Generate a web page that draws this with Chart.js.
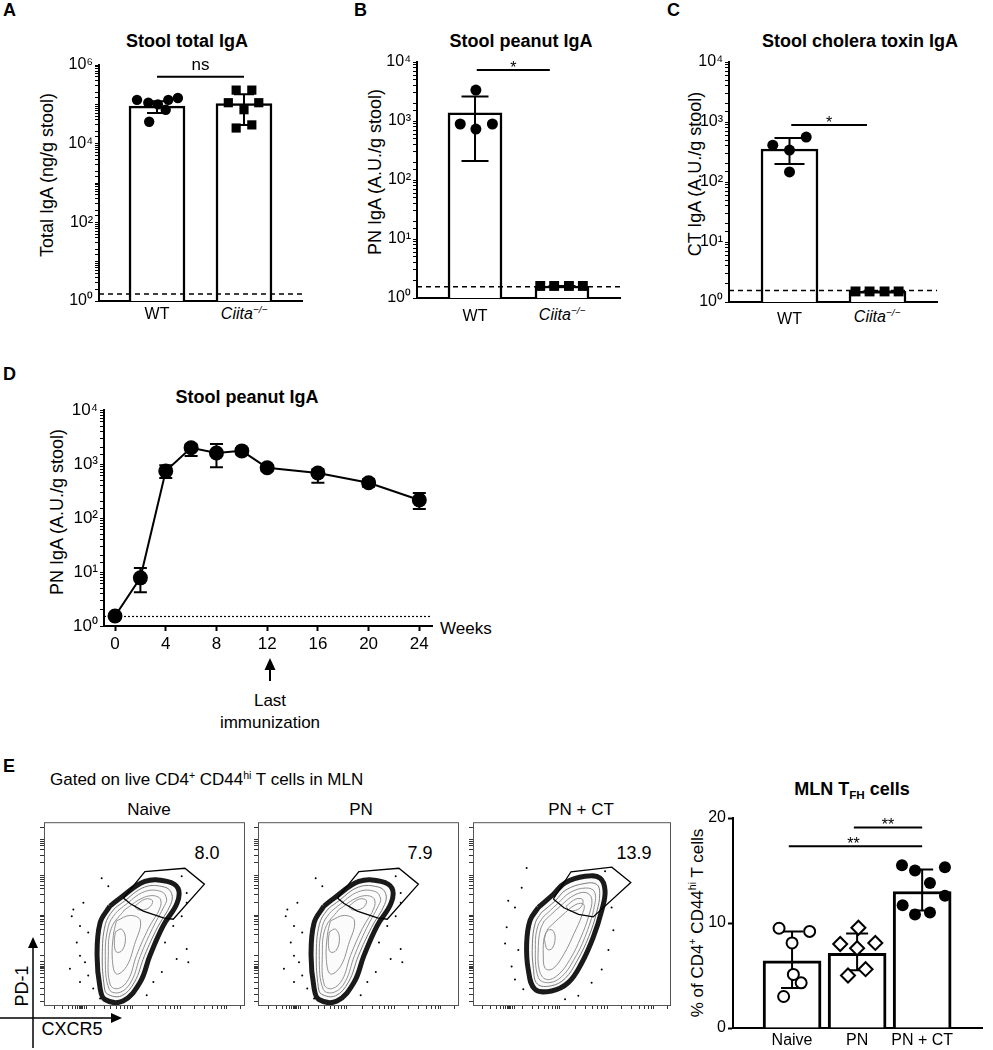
<!DOCTYPE html>
<html>
<head>
<meta charset="utf-8">
<script src="https://cdn.jsdelivr.net/npm/chart.js@4.4.0/dist/chart.umd.min.js"></script>
<style>
body { margin: 0; background: #fff; }
#fig { position: relative; width: 993px; height: 1050px; overflow: hidden; font-family: "Liberation Sans", Arial, sans-serif; color: #000; }
#fig canvas { position: absolute; }
.t { position: absolute; white-space: nowrap; line-height: 1; }
.c { transform: translate(-50%, -50%); }
.r { transform: translate(-50%, -50%) rotate(-90deg); }
.b { font-weight: bold; }
sup { font-size: 62%; vertical-align: 0.6em; line-height: 0; }
sub { font-size: 65%; vertical-align: -0.3em; line-height: 0; }
svg { position: absolute; left: 0; top: 0; }
</style>
</head>
<body>
<div id="fig">
  <div class="t b" style="left:3px;top:1px;font-size:18px">A</div>
  <div class="t b" style="left:354px;top:1px;font-size:18px">B</div>
  <div class="t b" style="left:667px;top:1px;font-size:18px">C</div>
  <div class="t b" style="left:3px;top:365px;font-size:18px">D</div>
  <div class="t b" style="left:3px;top:757px;font-size:18px">E</div>

  <div class="t b c" style="left:187px;top:41px;font-size:18px">Stool total IgA</div>
  <div class="t b c" style="left:521px;top:41px;font-size:18px">Stool peanut IgA</div>
  <div class="t b c" style="left:860px;top:41px;font-size:18px">Stool cholera toxin IgA</div>
  <div class="t b c" style="left:247px;top:397px;font-size:18px">Stool peanut IgA</div>
  <div class="t b c" style="left:852px;top:789px;font-size:18px">MLN T<sub>FH</sub> cells</div>

  <div class="t r" style="left:47px;top:175px;font-size:18px">Total IgA (ng/g stool)</div>
  <div class="t r" style="left:375px;top:172px;font-size:18px">PN IgA (A.U./g stool)</div>
  <div class="t r" style="left:695px;top:174px;font-size:18px">CT IgA (A.U./g stool)</div>
  <div class="t r" style="left:57px;top:512px;font-size:18px">PN IgA (A.U./g stool)</div>
  <div class="t r" style="left:697px;top:923px;font-size:17px">% of CD4<sup>+</sup> CD44<sup>hi</sup> T cells</div>

  <div class="t c" style="left:244px;top:314px;font-size:16px;font-style:italic">Ciita<sup>&minus;/&minus;</sup></div>
  <div class="t c" style="left:562px;top:315px;font-size:16px;font-style:italic">Ciita<sup>&minus;/&minus;</sup></div>
  <div class="t c" style="left:877px;top:317px;font-size:16px;font-style:italic">Ciita<sup>&minus;/&minus;</sup></div>

  <div class="t" style="left:440px;top:620px;font-size:17px">Weeks</div>
  <div class="t c" style="left:270px;top:700px;font-size:17px">Last</div>
  <div class="t c" style="left:270px;top:722px;font-size:17px">immunization</div>

  <div class="t" style="left:50px;top:771px;font-size:17px">Gated on live CD4<sup>+</sup> CD44<sup>hi</sup> T cells in MLN</div>
  <div class="t c" style="left:149px;top:809px;font-size:17px">Naive</div>
  <div class="t c" style="left:361px;top:809px;font-size:17px">PN</div>
  <div class="t c" style="left:581px;top:809px;font-size:17px">PN + CT</div>
  <div class="t c" style="left:207px;top:853px;font-size:18px">8.0</div>
  <div class="t c" style="left:420px;top:853px;font-size:18px">7.9</div>
  <div class="t c" style="left:634px;top:853px;font-size:18px">13.9</div>
  <div class="t r" style="left:22px;top:986px;font-size:18px">PD-1</div>
  <div class="t c" style="left:72px;top:1029px;font-size:18px">CXCR5</div>

  <svg width="993" height="1050">
    <line x1="270" y1="681" x2="270" y2="668" stroke="#000" stroke-width="2"/>
    <polygon points="264.5,670 275.5,670 270,658" fill="#000"/>
    <line x1="33" y1="1048" x2="33" y2="946" stroke="#000" stroke-width="1.5"/>
    <polygon points="28,948 38,948 33,937" fill="#000"/>
    <line x1="0" y1="1018" x2="113" y2="1018" stroke="#000" stroke-width="1.5"/>
    <polygon points="111,1013 111,1023 122,1018" fill="#000"/>
  </svg>
</div>

<script>
// ---------- data ----------
// A: stool total IgA (ng/g stool)
const totalMean = [9e4, 1.05e5];
const totalLo = [6e4, 3e4];
const totalHi = [1.2e5, 1.8e5];
const totalWT = [1.3e5, 1.1e5, 1.0e5, 3.6e4, 7.3e4, 1.3e5, 1.45e5];
const totalKO = [2.3e5, 2.3e5, 1.1e5, 1.1e5, 7.3e4, 2.5e4, 3.0e4];

// B: stool peanut IgA (A.U./g stool)
const pnMean = [1370, 1.6];
const pnLo = [210, 1.6];
const pnHi = [2600, 1.6];
const pnWT = [3350, 890, 730, 890];
const pnKO = [1.6, 1.6, 1.6, 1.6];

// C: stool cholera toxin IgA (A.U./g stool)
const ctMean = [355, 1.5];
const ctLo = [200, 1.5];
const ctHi = [540, 1.5];
const ctWT = [410, 340, 560, 147];
const ctKO = [1.5, 1.5, 1.5, 1.5];

const lodABC = [1.5, 1.55, 1.55];

// D: time course of stool peanut IgA
const weeks = [0, 2, 4, 6, 8, 10, 12, 16, 20, 24];
const weekTicks = [0, 4, 8, 12, 16, 20, 24];
const pnTime = [1.53, 7.8, 740, 2000, 1600, 1750, 850, 680, 450, 215];
const pnTimeLo = [1.45, 4.2, 550, 1400, 870, 1500, 760, 450, 380, 147];
const pnTimeHi = [1.6, 11.8, 950, 2300, 2350, 1950, 950, 800, 520, 290];
const lodD = 1.5;

// E: MLN TFH cells (% of CD4+ CD44hi T cells)
const tfhGroups = ['Naive', 'PN', 'PN + CT'];
const tfhMean = [6.4, 7.1, 13.0];
const tfhLo = [3.8, 5.5, 11.2];
const tfhHi = [9.2, 9.0, 15.1];
const tfhNaive = [9.5, 9.2, 8.1, 5.1, 4.3, 3.0];
const tfhPN = [9.55, 8.0, 7.6, 8.1, 5.6, 5.0];
const tfhPNCT = [15.5, 15.0, 15.3, 13.8, 12.6, 11.7, 10.8, 11.0];

// flow plots, CXCR5 (x) vs PD-1 (y), both in 0..100 plot units
const cloudNP = [[32.8,54.1],[37.8,58.4],[50.2,67.6],[61.2,67.6],[66.7,63.8],[66.2,55.7],[59.2,43.2],[52.7,27],[47.8,12.4],[39.3,2.2],[30.3,3],[27.9,9.2],[26.4,27],[27.9,44.9],[32.8,54.1]];
const ringNP1 = [[39,56],[50,64.5],[60,64.5],[63.5,61],[63,55],[56.5,42.5],[50,27],[45,12.5],[38.5,5],[31.5,6],[30,10],[29,27],[30.5,44],[34.5,52],[39,56]];
const ringNP6 = [[39.5,54],[50,62],[58.5,62],[61,58],[60,54.5],[54,42],[48,27],[43.5,13],[38,7],[32.5,8.5],[30.5,27],[32,43],[35.5,50],[39.5,54]];
const ringNP2 = [[40,52],[50,59],[57,59],[58,54],[52,42],[46,27],[42,14],[37,9],[33,11],[32,27],[33.5,42],[40,52]];
const ringNP3 = [[36,46],[43,49],[48,46],[45,33],[41,21],[36,17],[34,25],[34.5,38],[36,46]];
const ringNP4 = [[35.5,40],[38.5,41.5],[40.5,37],[39,30],[36,29],[35,34],[35.5,40]];
const ringNP5 = [[45,54],[50.5,58],[54,57],[52,53],[47,52],[45,54]];
const gateNP = [[39.5,58.5],[50.2,73],[70.1,74.8],[79.8,66.1],[64.3,46.9],[59.4,47.7],[49.4,51.4],[42.8,55.5],[39.5,58.5]];
const dotsNP = [[28.7,69.4],[32,64.9],[19.6,55.9],[14.6,52.3],[13.8,48.6],[17.9,43.2],[22,39.6],[16.3,34.2],[17.9,27],[20.4,23.4],[12.9,19.8],[22,16.2],[17.9,12.6],[24.5,9],[27.9,3.6],[68.5,70.4],[71,61.3],[71,55.9],[68.5,48.6],[64.3,43.2],[71,30.6],[71.8,23.4],[66,25.2],[58.6,18],[54.4,12.6],[60.2,34.2],[51.1,5.4]];

const cloudCT = [[33,53.4],[40.6,60.6],[46.5,66.8],[56.6,70.4],[64.1,69.5],[66.7,62.4],[65,51.6],[60.8,37.3],[54.9,23],[48.1,12.2],[39.7,7.7],[31.3,8.6],[27.9,19.4],[27.1,33.7],[28.8,46.2],[33,53.4]];
const ringCT1 = [[34.5,50.5],[41.5,57],[47,63],[56.5,66.5],[62.5,66],[64,61],[62.5,51],[58.5,37.5],[52.5,24],[46.5,14.5],[39.5,10.5],[32.5,11.5],[30.5,20],[30,33.5],[31.5,45],[34.5,50.5]];
const ringCT6 = [[35.3,48],[42.8,55.5],[49,61.5],[57,64],[61.3,62],[61.3,54],[56.5,37],[50.8,24.5],[44.8,15.5],[38.2,12.2],[33,15],[31.5,33],[32.7,43],[35.3,48]];
const ringCT2 = [[36,46],[44,54],[51,60],[57,61.5],[60,58],[58.5,49],[54.5,37],[49,25],[43,16.5],[37,14],[33.5,19],[33,32],[34,41],[36,46]];
const ringCT3 = [[38,42],[45,49],[52,55],[56,55],[55,49],[51,39],[46,28],[40.5,20],[36.5,20],[35.5,28],[36,37],[38,42]];
const ringCT4 = [[36,36],[37.5,40.5],[40,41],[41.5,37],[40,31],[37.5,30.5],[36,36]];
const ringCT5 = [[47,54],[52,58],[55.5,57.5],[54,53],[49,51.5],[47,54]];
const gateCT = [[40.6,58],[49.5,72.9],[70.1,75.4],[79.7,67],[60.7,48.2],[53.3,49.6],[45.9,53.2],[40.6,58]];
const dotsCT = [[27.1,74.9],[17.8,57],[17,42.6],[21.2,53.4],[22.9,30.1],[19.5,21.1],[21.2,14],[25.4,8.6],[66.7,73.1],[70,53.4],[70.9,40.9],[68.4,30.1],[65,19.4],[59.9,12.2],[53.2,5],[46.5,3.2],[16.2,33.7],[24.6,64.1]];

const flowTicksY = [2, 6, 9, 12.4, 15, 17.5, 19, 20, 20.5, 21, 22, 24, 27, 34, 38.5, 41.5, 44, 45.5, 47, 48.2, 49.2, 56, 60.5, 63.5, 65.5, 67.5, 68.8, 70, 70.8, 78, 82, 85, 87, 88.5, 89.5, 90.3, 90.8, 97];
const flowTicksX = [5, 9, 12, 14, 15.5, 16.5, 17.5, 18, 18.5, 19, 20, 21, 25, 30, 33, 36, 38, 40, 41.5, 42.8, 43.8, 52, 57, 60.5, 63, 65, 66.5, 67.7, 75, 80, 84, 86.5, 88.5, 90, 91, 98];

// layout only: horizontal jitter of the dots around each group centre
const jitTotWT = [-0.23, -0.10, 0.01, -0.09, 0.10, 0.13, 0.24];
const jitTotKO = [-0.09, 0.09, -0.18, 0.17, 0, -0.09, 0.09];
const jitPnWT = [0.01, -0.17, 0.01, 0.2];
const jitCtWT = [-0.19, 0, 0.19, 0];
const jitKO4 = [-0.25, -0.09, 0.08, 0.24];
const jitNaive = [-0.2, 0.27, 0, 0.02, 0.14, -0.13];
const jitPN = [0.02, -0.26, 0, 0.28, 0.13, -0.14];
const jitPNCT = [-0.31, -0.11, 0.35, 0.12, 0.35, -0.3, -0.11, 0.12];

// ---------- helpers ----------
Chart.defaults.font.family = '"Liberation Sans", Arial, sans-serif';
Chart.defaults.color = '#000';
Chart.defaults.animation = false;
Chart.defaults.plugins.legend.display = false;
Chart.defaults.plugins.tooltip.enabled = false;

const SUP = {0: '\u2070', 1: '\u00b9', 2: '\u00b2', 3: '\u00b3', 4: '\u2074', 5: '\u2075', 6: '\u2076'};

function mk(left, top, w, h) {
    const c = document.createElement('canvas');
    c.width = w;
    c.height = h;
    c.style.left = left + 'px';
    c.style.top = top + 'px';
    document.getElementById('fig').appendChild(c);
    return c;
}

function pts(xs, ys) {
    return ys.map((y, i) => ({x: xs[i], y: y}));
}

function around(centre, jit) {
    return jit.map(j => centre + j);
}

function drawErr(chart, e) {
    const ctx = chart.ctx, xs = chart.scales.x, ys = chart.scales.y;
    ctx.save();
    ctx.strokeStyle = '#000';
    ctx.lineWidth = e.w;
    e.x.forEach((xv, i) => {
        const px = xs.getPixelForValue(xv);
        const lo = ys.getPixelForValue(e.lo[i]);
        const hi = ys.getPixelForValue(e.hi[i]);
        ctx.beginPath();
        ctx.moveTo(px, lo); ctx.lineTo(px, hi);
        ctx.moveTo(px - e.cap / 2, lo); ctx.lineTo(px + e.cap / 2, lo);
        ctx.moveTo(px - e.cap / 2, hi); ctx.lineTo(px + e.cap / 2, hi);
        ctx.stroke();
    });
    ctx.restore();
}

function drawLod(chart, l) {
    const ctx = chart.ctx, a = chart.chartArea;
    const py = chart.scales.y.getPixelForValue(l.value);
    ctx.save();
    ctx.setLineDash(l.dash);
    ctx.lineWidth = l.w;
    ctx.strokeStyle = '#000';
    ctx.beginPath();
    ctx.moveTo(a.left, py); ctx.lineTo(a.right, py);
    ctx.stroke();
    ctx.restore();
}

// extra marks that are not plain datasets: error bars, LOD line, significance bars, plot frame
function deco(o) {
    return {
        id: 'deco',
        beforeDatasetsDraw(chart) {
            if (o.lod && o.lod.under) drawLod(chart, o.lod);
            if (o.err && o.err.under) drawErr(chart, o.err);
        },
        afterDatasetDraw(chart, args) {
            if (o.lod && o.lod.after === args.index) drawLod(chart, o.lod);
            if (o.err && o.err.after === args.index) drawErr(chart, o.err);
        },
        afterDatasetsDraw(chart) {
            const ctx = chart.ctx;
            if (o.sig) {
                o.sig.forEach(s => {
                    const x1 = chart.scales.x.getPixelForValue(s.x1);
                    const x2 = chart.scales.x.getPixelForValue(s.x2);
                    const py = chart.scales.y.getPixelForValue(s.y);
                    ctx.save();
                    ctx.lineWidth = 2;
                    ctx.strokeStyle = '#000';
                    ctx.beginPath();
                    ctx.moveTo(x1, py); ctx.lineTo(x2, py);
                    ctx.stroke();
                    ctx.fillStyle = '#000';
                    ctx.textAlign = 'center';
                    ctx.textBaseline = 'alphabetic';
                    ctx.font = s.size + 'px "Liberation Sans", Arial, sans-serif';
                    const star = s.text.indexOf('*') >= 0;
                    ctx.fillText(s.text, (x1 + x2) / 2 + (s.dx || 0), star ? py + 3 : py - 7);
                    ctx.restore();
                });
            }
            if (o.box) {
                const a = chart.chartArea;
                ctx.save();
                ctx.strokeStyle = '#555';
                ctx.lineWidth = 1;
                ctx.strokeRect(a.left + 0.5, a.top + 0.5, a.right - a.left - 1, a.bottom - a.top);
                ctx.restore();
            }
        }
    };
}

function logTicks(exps) {
    return function(v) {
        const l = Math.log10(v);
        const e = Math.round(l);
        if (Math.abs(l - e) < 1e-6 && exps.includes(e)) return '10' + SUP[e];
        return '';
    };
}

// ---------- A, B, C: bar + dots on a log axis ----------
function logDotPlot(c, p) {
    new Chart(mk(c.left, c.top, c.w, c.h), {
        type: 'bar',
        data: {
            datasets: [
                {type: 'scatter', data: pts(around(1, p.jitWT), p.wt), pointStyle: 'circle', pointRadius: p.rWT, backgroundColor: '#000', borderColor: '#000', borderWidth: 0, order: 1},
                {type: 'scatter', data: pts(around(2, p.jitKO), p.ko), pointStyle: 'rect', pointRadius: p.rKO, backgroundColor: '#000', borderColor: '#000', borderWidth: 0, order: 1},
                {type: 'bar', data: pts([1, 2], p.mean), barThickness: p.barW, backgroundColor: '#fff', borderColor: '#000', borderWidth: 2.5, order: 2}
            ]
        },
        options: {
            responsive: false,
            layout: {padding: {top: c.padTop, right: c.padRight, left: 0, bottom: 0}},
            scales: {
                x: {
                    type: 'linear', min: p.xMin, max: p.xMax, offset: false,
                    afterBuildTicks: s => { s.ticks = [{value: 1}, {value: 2}]; },
                    afterFit: s => { s.height = c.xH; },
                    grid: {display: false, drawTicks: false, offset: false},
                    border: {color: '#000', width: 2},
                    ticks: {callback: v => (v === 1 ? 'WT' : ''), font: {size: 16}, padding: p.xPad, color: '#000', maxRotation: 0}
                },
                y: {
                    type: 'logarithmic', min: p.yMin, max: p.yMax,
                    afterFit: s => { s.width = c.yW; },
                    grid: {drawOnChartArea: false, tickLength: 4, tickColor: '#000', tickWidth: 1},
                    border: {color: '#000', width: 2},
                    ticks: {autoSkip: false, callback: logTicks(p.exps), font: {size: 16}, padding: 2, color: '#000'}
                }
            }
        },
        plugins: [deco({
            lod: {value: p.lod, dash: [5, 4], w: 1.5, after: 0},
            err: {x: [1, 2], lo: p.lo, hi: p.hi, cap: p.cap, w: 2, after: 2},
            sig: p.sig
        })]
    });
}

logDotPlot({left: 0, top: 0, w: 320, h: 330, padTop: 65, padRight: 18, yW: 99, xH: 29}, {
    mean: totalMean, lo: totalLo, hi: totalHi, wt: totalWT, ko: totalKO, jitWT: jitTotWT, jitKO: jitTotKO,
    rWT: 5.2, rKO: 6.5, barW: 56, cap: 20, xMin: 0.333, xMax: 2.667, xPad: 4,
    yMin: 1, yMax: 1e6, exps: [0, 2, 4, 6], lod: lodABC[0],
    sig: [{x1: 1, x2: 2, y: 5e5, text: 'ns', size: 17}]
});

logDotPlot({left: 330, top: 0, w: 300, h: 330, padTop: 62, padRight: 10, yW: 87, xH: 32}, {
    mean: pnMean, lo: pnLo, hi: pnHi, wt: pnWT, ko: pnKO, jitWT: jitPnWT, jitKO: jitKO4,
    rWT: 5.5, rKO: 7, barW: 54, cap: 27, xMin: 0.333, xMax: 2.667, xPad: 9,
    yMin: 1, yMax: 1e4, exps: [0, 1, 2, 3, 4], lod: lodABC[1],
    sig: [{x1: 1.02, x2: 1.86, y: 7300, text: '*', size: 16}]
});

logDotPlot({left: 660, top: 0, w: 333, h: 330, padTop: 62, padRight: 56, yW: 69, xH: 28}, {
    mean: ctMean, lo: ctLo, hi: ctHi, wt: ctWT, ko: ctKO, jitWT: jitCtWT, jitKO: jitKO4,
    rWT: 5.5, rKO: 7, barW: 57, cap: 30, xMin: 0.3125, xMax: 2.676, xPad: 8,
    yMin: 1, yMax: 1e4, exps: [0, 1, 2, 3, 4], lod: lodABC[2],
    sig: [{x1: 1.02, x2: 1.88, y: 890, text: '*', size: 16}]
});

// ---------- D: time course ----------
new Chart(mk(0, 380, 445, 290), {
    type: 'scatter',
    data: {
        datasets: [{
            data: pts(weeks, pnTime), showLine: true, borderColor: '#000', borderWidth: 2,
            pointRadius: 7.5, pointBackgroundColor: '#000', pointBorderWidth: 0
        }]
    },
    options: {
        responsive: false,
        layout: {padding: {top: 30, right: 13, left: 0, bottom: 0}},
        scales: {
            x: {
                type: 'linear', min: -0.87, max: 25,
                afterBuildTicks: s => { s.ticks = weekTicks.map(v => ({value: v})); },
                afterFit: s => { s.height = 44; },
                grid: {drawOnChartArea: false, tickLength: 5, tickColor: '#000', tickWidth: 2},
                border: {color: '#000', width: 2},
                ticks: {font: {size: 17}, padding: 3, color: '#000', maxRotation: 0}
            },
            y: {
                type: 'logarithmic', min: 1, max: 1e4,
                afterFit: s => { s.width = 104; },
                grid: {drawOnChartArea: false, tickLength: 4, tickColor: '#000', tickWidth: 1},
                border: {color: '#000', width: 2},
                ticks: {autoSkip: false, callback: logTicks([0, 1, 2, 3, 4]), font: {size: 17}, padding: 2, color: '#000'}
            }
        }
    },
    plugins: [deco({
        lod: {value: lodD, dash: [2, 2], w: 1.2, under: true},
        err: {x: weeks, lo: pnTimeLo, hi: pnTimeHi, cap: 13, w: 2, under: true}
    })]
});

// ---------- E: flow plots ----------
function poly(p, style) {
    return Object.assign({data: p.map(q => ({x: q[0], y: q[1]})), showLine: true, pointRadius: 0, tension: 0.4}, style);
}

function flowPlot(left, w, padRight, s) {
    const grey = {borderColor: '#929292', borderWidth: 1};
    new Chart(mk(left, 812, w, 205), {
        type: 'scatter',
        data: {
            datasets: [
                poly(s.gate, {borderColor: '#000', borderWidth: 1.3, tension: 0, order: 0}),
                poly(s.r5, Object.assign({order: 1}, grey)),
                poly(s.r4, Object.assign({order: 1}, grey)),
                poly(s.r3, Object.assign({order: 2}, grey)),
                poly(s.r2, Object.assign({order: 3}, grey)),
                poly(s.r6, Object.assign({order: 4}, grey)),
                poly(s.r1, {borderColor: '#7a7a7a', borderWidth: 1, order: 5}),
                poly(s.cloud, {borderColor: '#1a1a1a', borderWidth: 5, backgroundColor: '#fbfbfb', fill: 'shape', order: 6}),
                {data: s.dots.map(q => ({x: q[0], y: q[1]})), pointRadius: 1, backgroundColor: '#000', borderWidth: 0, order: 8}
            ]
        },
        options: {
            responsive: false,
            layout: {padding: {top: 8, right: padRight, left: 0, bottom: 0}},
            scales: {
                x: {
                    type: 'linear', min: 0, max: 100,
                    afterBuildTicks: sc => { sc.ticks = flowTicksX.map(v => ({value: v})); },
                    afterFit: sc => { sc.height = 12; },
                    grid: {drawOnChartArea: false, tickLength: 4, tickColor: '#333', tickWidth: 1},
                    border: {display: false},
                    ticks: {callback: () => '', autoSkip: false}
                },
                y: {
                    type: 'linear', min: 0, max: 100,
                    afterBuildTicks: sc => { sc.ticks = flowTicksY.map(v => ({value: v})); },
                    afterFit: sc => { sc.width = 14; },
                    grid: {drawOnChartArea: false, tickLength: 4, tickColor: '#333', tickWidth: 1},
                    border: {display: false},
                    ticks: {callback: () => '', autoSkip: false}
                }
            }
        },
        plugins: [deco({box: true})]
    });
}

const shapeNP = {cloud: cloudNP, r1: ringNP1, r2: ringNP2, r3: ringNP3, r4: ringNP4, r5: ringNP5, r6: ringNP6, gate: gateNP, dots: dotsNP};
const shapeCT = {cloud: cloudCT, r1: ringCT1, r2: ringCT2, r3: ringCT3, r4: ringCT4, r5: ringCT5, r6: ringCT6, gate: gateCT, dots: dotsCT};
flowPlot(30, 225, 10, shapeNP);
flowPlot(244, 225, 10, shapeNP);
flowPlot(459, 222, 10, shapeCT);

// ---------- E: TFH bar chart ----------
new Chart(mk(700, 800, 293, 250), {
    type: 'bar',
    data: {
        datasets: [
            {type: 'scatter', data: pts(around(1, jitNaive), tfhNaive), pointStyle: 'circle', pointRadius: 5.5, backgroundColor: '#fff', borderColor: '#000', borderWidth: 2, order: 1},
            {type: 'scatter', data: pts(around(2, jitPN), tfhPN), pointStyle: 'rectRot', pointRadius: 7, backgroundColor: '#fff', borderColor: '#000', borderWidth: 2, order: 1},
            {type: 'scatter', data: pts(around(3, jitPNCT), tfhPNCT), pointStyle: 'circle', pointRadius: 6, backgroundColor: '#000', borderColor: '#000', borderWidth: 0, order: 1},
            {type: 'bar', data: pts([1, 2, 3], tfhMean), barThickness: 58, backgroundColor: '#fff', borderColor: '#000', borderWidth: 3, order: 2}
        ]
    },
    options: {
        responsive: false,
        layout: {padding: {top: 18, right: 11, left: 0, bottom: 0}},
        scales: {
            x: {
                type: 'linear', min: 0.092, max: 3.92, offset: false,
                afterBuildTicks: s => { s.ticks = [1, 2, 3].map(v => ({value: v})); },
                afterFit: s => { s.height = 22; },
                grid: {display: false, drawTicks: false, offset: false},
                border: {color: '#000', width: 2},
                ticks: {callback: v => tfhGroups[v - 1], font: {size: 16}, padding: 3, color: '#000', maxRotation: 0}
            },
            y: {
                type: 'linear', min: 0, max: 20,
                afterFit: s => { s.width = 33; },
                grid: {drawOnChartArea: false, tickLength: 5, tickColor: '#000', tickWidth: 2},
                border: {color: '#000', width: 2},
                ticks: {stepSize: 10, font: {size: 16}, padding: 2, color: '#000'}
            }
        }
    },
    plugins: [deco({
        err: {x: [1, 2, 3], lo: tfhLo, hi: tfhHi, cap: 22, w: 2, after: 3},
        sig: [
            {x1: 1.95, x2: 3, y: 19.1, text: '**', size: 16},
            {x1: 0.95, x2: 3, y: 17.3, text: '**', size: 16, dx: -2}
        ]
    })]
});
</script>
</body>
</html>
